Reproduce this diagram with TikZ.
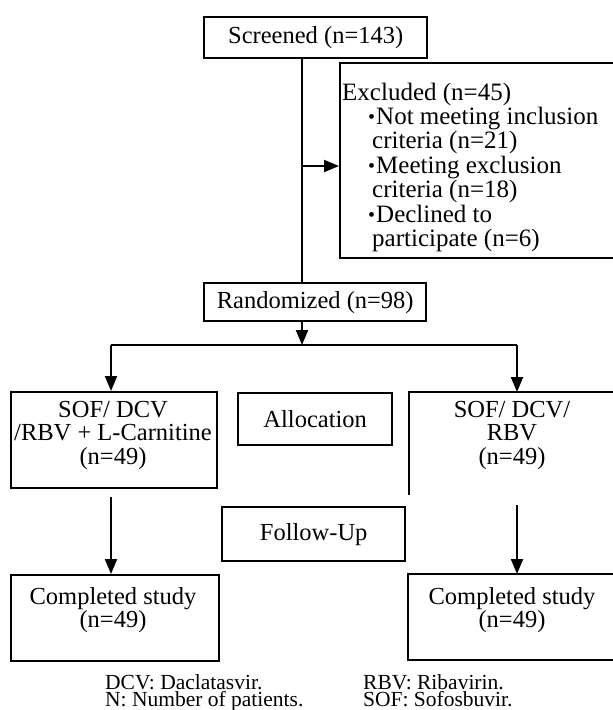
\documentclass[tikz,border=0pt]{standalone}
\usepackage{fontspec}
\setmainfont{Liberation Serif}
\usetikzlibrary{arrows.meta}
\newcommand{\xbul}{\makebox[8pt][l]{\raisebox{1pt}{\fontsize{20}{20}\selectfont\textbullet}}}
\begin{document}
\begin{tikzpicture}[x=1pt,y=-1pt,
  boxline/.style={line width=2.4pt},
  box/.style={draw, boxline, inner sep=0pt, anchor=north west},
  txt/.style={font=\fontsize{24.5}{23.5}\selectfont, inner sep=0pt, align=center},
  conn/.style={line width=2pt},
  arr/.style={conn, -{Triangle[length=15pt,width=12pt]}},
  foot/.style={font=\fontsize{21.5}{17}\selectfont, inner sep=0pt, anchor=north west, align=left}]
\clip (0,0) rectangle (613,710);
\fill[white] (0,0) rectangle (613,710);

% boxes
\node[box, txt, minimum width=223pt, minimum height=41pt] (scr) at (203,16) {Screened (n=143)};
\node[box, minimum width=301pt, minimum height=195pt] (exc) at (339,62) {};
\node[anchor=base west, inner sep=0pt, font=\fontsize{25}{23.7}\selectfont] (exct) at (342,100)
  {\begin{tabular}[t]{@{}l@{}}
   Excluded (n=45)\\
   \hspace*{26pt}\xbul Not meeting inclusion\\
   \hspace*{30pt}criteria (n=21)\\
   \hspace*{26pt}\xbul Meeting exclusion\\
   \hspace*{30pt}criteria (n=18)\\
   \hspace*{26pt}\xbul Declined to\\
   \hspace*{30pt}participate (n=6)
   \end{tabular}};
\node[box, txt, minimum width=222pt, minimum height=38pt] (rnd) at (203,282) {Randomized (n=98)};

\node[box, minimum width=206pt, minimum height=96pt] (sofL) at (10,391) {};
\node[txt] (sofLt) at (113,435) {SOF/ DCV\\/RBV + L-Carnitine\\(n=49)};
\node[box, txt, minimum width=154pt, minimum height=52pt] (alloc) at (237,392) {Allocation};
\node[txt] (sofRt) at (512,435) {SOF/ DCV/\\RBV\\(n=49)};
\draw[boxline] (409,495) -- (409,392) -- (640,392);

\node[box, txt, minimum width=183pt, minimum height=54pt] (fu) at (221,506) {Follow-Up};

\node[box, minimum width=208pt, minimum height=86pt] (cmpL) at (10,574) {};
\node[txt, font=\fontsize{24.5}{20.5}\selectfont] (cmpLt) at (113,610) {Completed study\\(n=49)};
\draw[boxline] (640,574) -- (408,574) -- (408,660) -- (640,660);
\node[txt, font=\fontsize{24.5}{20.5}\selectfont] (cmpRt) at (512,610) {Completed study\\(n=49)};

% connectors
\coordinate (gapmid) at (302,166);
\coordinate (split) at (302,345);
\coordinate (hl) at (111,345);
\coordinate (hr) at (517,345);
\coordinate (lstart) at (111,497);
\coordinate (rstart) at (517,505);
\draw[conn] (scr.south -| split) -- ([yshift=-7pt]gapmid);
\draw[conn] ([yshift=8pt]gapmid) -- (rnd.north -| split);
\draw[arr] (gapmid) -- (exc.west |- gapmid);
\draw[arr] (rnd.south -| split) -- (split);
\draw[conn] (hl) -- (hr);
\draw[arr] (hl) -- (hl |- sofL.north);
\draw[arr] (hr) -- (hr |- alloc.north);
\draw[arr] (lstart) -- (lstart |- cmpL.north);
\draw[arr] (rstart) -- (rstart |- cmpL.north);

% footnotes
\node[foot] (fl) at (105,674.5) {DCV: Daclatasvir.\\N: Number of patients.};
\node[foot] (fr) at (363,674.5) {RBV: Ribavirin.\\SOF: Sofosbuvir.};
\end{tikzpicture}
\end{document}
